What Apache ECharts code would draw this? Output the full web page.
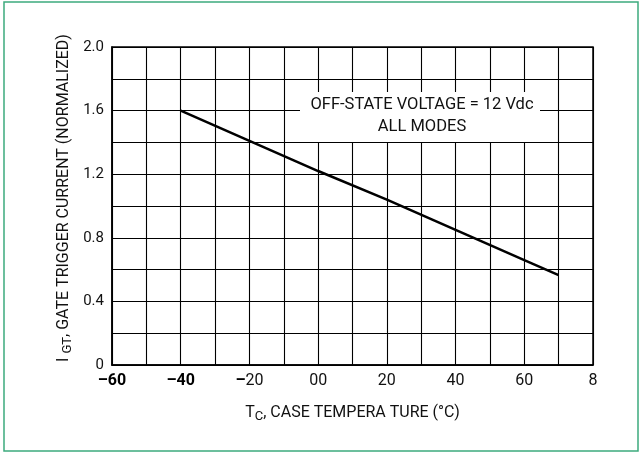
<!DOCTYPE html>
<html>
<head>
<meta charset="utf-8">
<script src="https://cdn.jsdelivr.net/npm/echarts@6/dist/echarts.min.js"></script>
<style>
html,body{margin:0;padding:0;background:#fff;}
#chart{width:642px;height:453px;}
</style>
</head>
<body>
<div id="chart"></div>
<script>
// ---- data ----
const temperature = [-40, -20, 0, 20, 40, 60, 70];
const igtNormalized = [1.60, 1.41, 1.22, 1.04, 0.85, 0.66, 0.565];

const xTickValues = [-60, -40, -20, 0, 20, 40, 60, 80];
const xTickLabels = ['–60', '–40', '–20', '00', '20', '40', '60', '8'];
const yTickValues = [0, 0.4, 0.8, 1.2, 1.6, 2.0];
const yTickLabels = ['0', '0.4', '0.8', '1.2', '1.6', '2.0'];

const noteLines = ['OFF-STATE VOLTAGE = 12 Vdc', 'ALL MODES'];
const yTitle = { main: 'I', sub: 'GT', rest: ', GATE TRIGGER CURRENT (NORMALIZED)' };
const xTitle = { main: 'T', sub: 'C', rest: ', CASE TEMPERA TURE (°C)' };

// ---- chart ----
const FONT = 'Roboto';
const chart = echarts.init(document.getElementById('chart'), null, { renderer: 'canvas' });

function findIdx(arr, v) {
  for (let i = 0; i < arr.length; i++) if (Math.abs(arr[i] - v) < 1e-6) return i;
  return -1;
}

const option = {
  backgroundColor: '#fff',
  animation: false,
  grid: {
    left: 112, right: 49, top: 47, bottom: 88,
    show: true, borderColor: '#000', borderWidth: 1.5, containLabel: false
  },
  xAxis: {
    type: 'value', min: -60, max: 80, interval: 10,
    axisLine: { show: true, onZero: false, lineStyle: { color: '#000', width: 1.5 } },
    axisTick: { show: false },
    splitLine: { show: true, lineStyle: { color: '#000', width: 1.1 } },
    axisLabel: {
      margin: 8,
      fontFamily: FONT, fontSize: 16, color: '#111',
      formatter: function (v) {
        const i = findIdx(xTickValues, v);
        if (i < 0) return '';
        const s = xTickLabels[i];
        if (i < 2) return '{b|' + s + '}';
        if (s.charAt(0) === '–') return '{b|–}{n|' + s.slice(1) + '}';
        return '{n|' + s + '}';
      },
      rich: {
        b: { fontFamily: FONT, fontSize: 16, fontWeight: 'bold', color: '#000' },
        n: { fontFamily: FONT, fontSize: 16, color: '#111' }
      }
    }
  },
  yAxis: {
    type: 'value', min: 0, max: 2, interval: 0.2,
    axisLine: { show: true, onZero: false, lineStyle: { color: '#000', width: 1.5 } },
    axisTick: { show: false },
    splitLine: { show: true, lineStyle: { color: '#000', width: 1.1 } },
    axisLabel: {
      margin: 8,
      fontFamily: FONT, fontSize: 15, color: '#111',
      formatter: function (v) {
        const i = findIdx(yTickValues, v);
        return i < 0 ? '' : yTickLabels[i];
      }
    }
  },
  series: [{
    type: 'line',
    data: temperature.map((t, i) => [t, igtNormalized[i]]),
    showSymbol: false,
    lineStyle: { color: '#000', width: 2.5 },
    z: 5
  }],
  graphic: [
    {
      type: 'rect', z: 100, silent: true,
      shape: { x: 4, y: 2, width: 634, height: 449 },
      style: { fill: 'none', stroke: '#3daa7e', lineWidth: 1.5 }
    },
    {
      type: 'rect', z: 50, silent: true,
      shape: { x: 300, y: 92, width: 240, height: 50 },
      style: { fill: '#fff' }
    },
    {
      type: 'text', z: 51, silent: true,
      x: 422, y: 116,
      style: {
        text: noteLines.join('\n'),
        fontFamily: FONT, fontSize: 16.5, fill: '#111',
        align: 'center', verticalAlign: 'middle', lineHeight: 21.7
      }
    },
    {
      type: 'text', z: 51, silent: true,
      x: 64, y: 198, rotation: Math.PI / 2,
      style: {
        text: '{m|' + yTitle.main + ' }{s|' + yTitle.sub + '}{m|' + yTitle.rest + '}',
        align: 'center', verticalAlign: 'middle',
        rich: {
          m: { fontFamily: FONT, fontSize: 16, fill: '#111', lineHeight: 20 },
          s: { fontFamily: FONT, fontSize: 13, fill: '#111', verticalAlign: 'bottom', lineHeight: 15 }
        }
      }
    },
    {
      type: 'text', z: 51, silent: true,
      x: 352.5, y: 413,
      style: {
        text: '{m|' + xTitle.main + '}{s|' + xTitle.sub + '}{m|' + xTitle.rest + '}',
        align: 'center', verticalAlign: 'middle',
        rich: {
          m: { fontFamily: FONT, fontSize: 16, fill: '#111', lineHeight: 20 },
          s: { fontFamily: FONT, fontSize: 13, fill: '#111', verticalAlign: 'bottom', lineHeight: 15 }
        }
      }
    }
  ]
};
chart.setOption(option);
</script>
</body>
</html>
